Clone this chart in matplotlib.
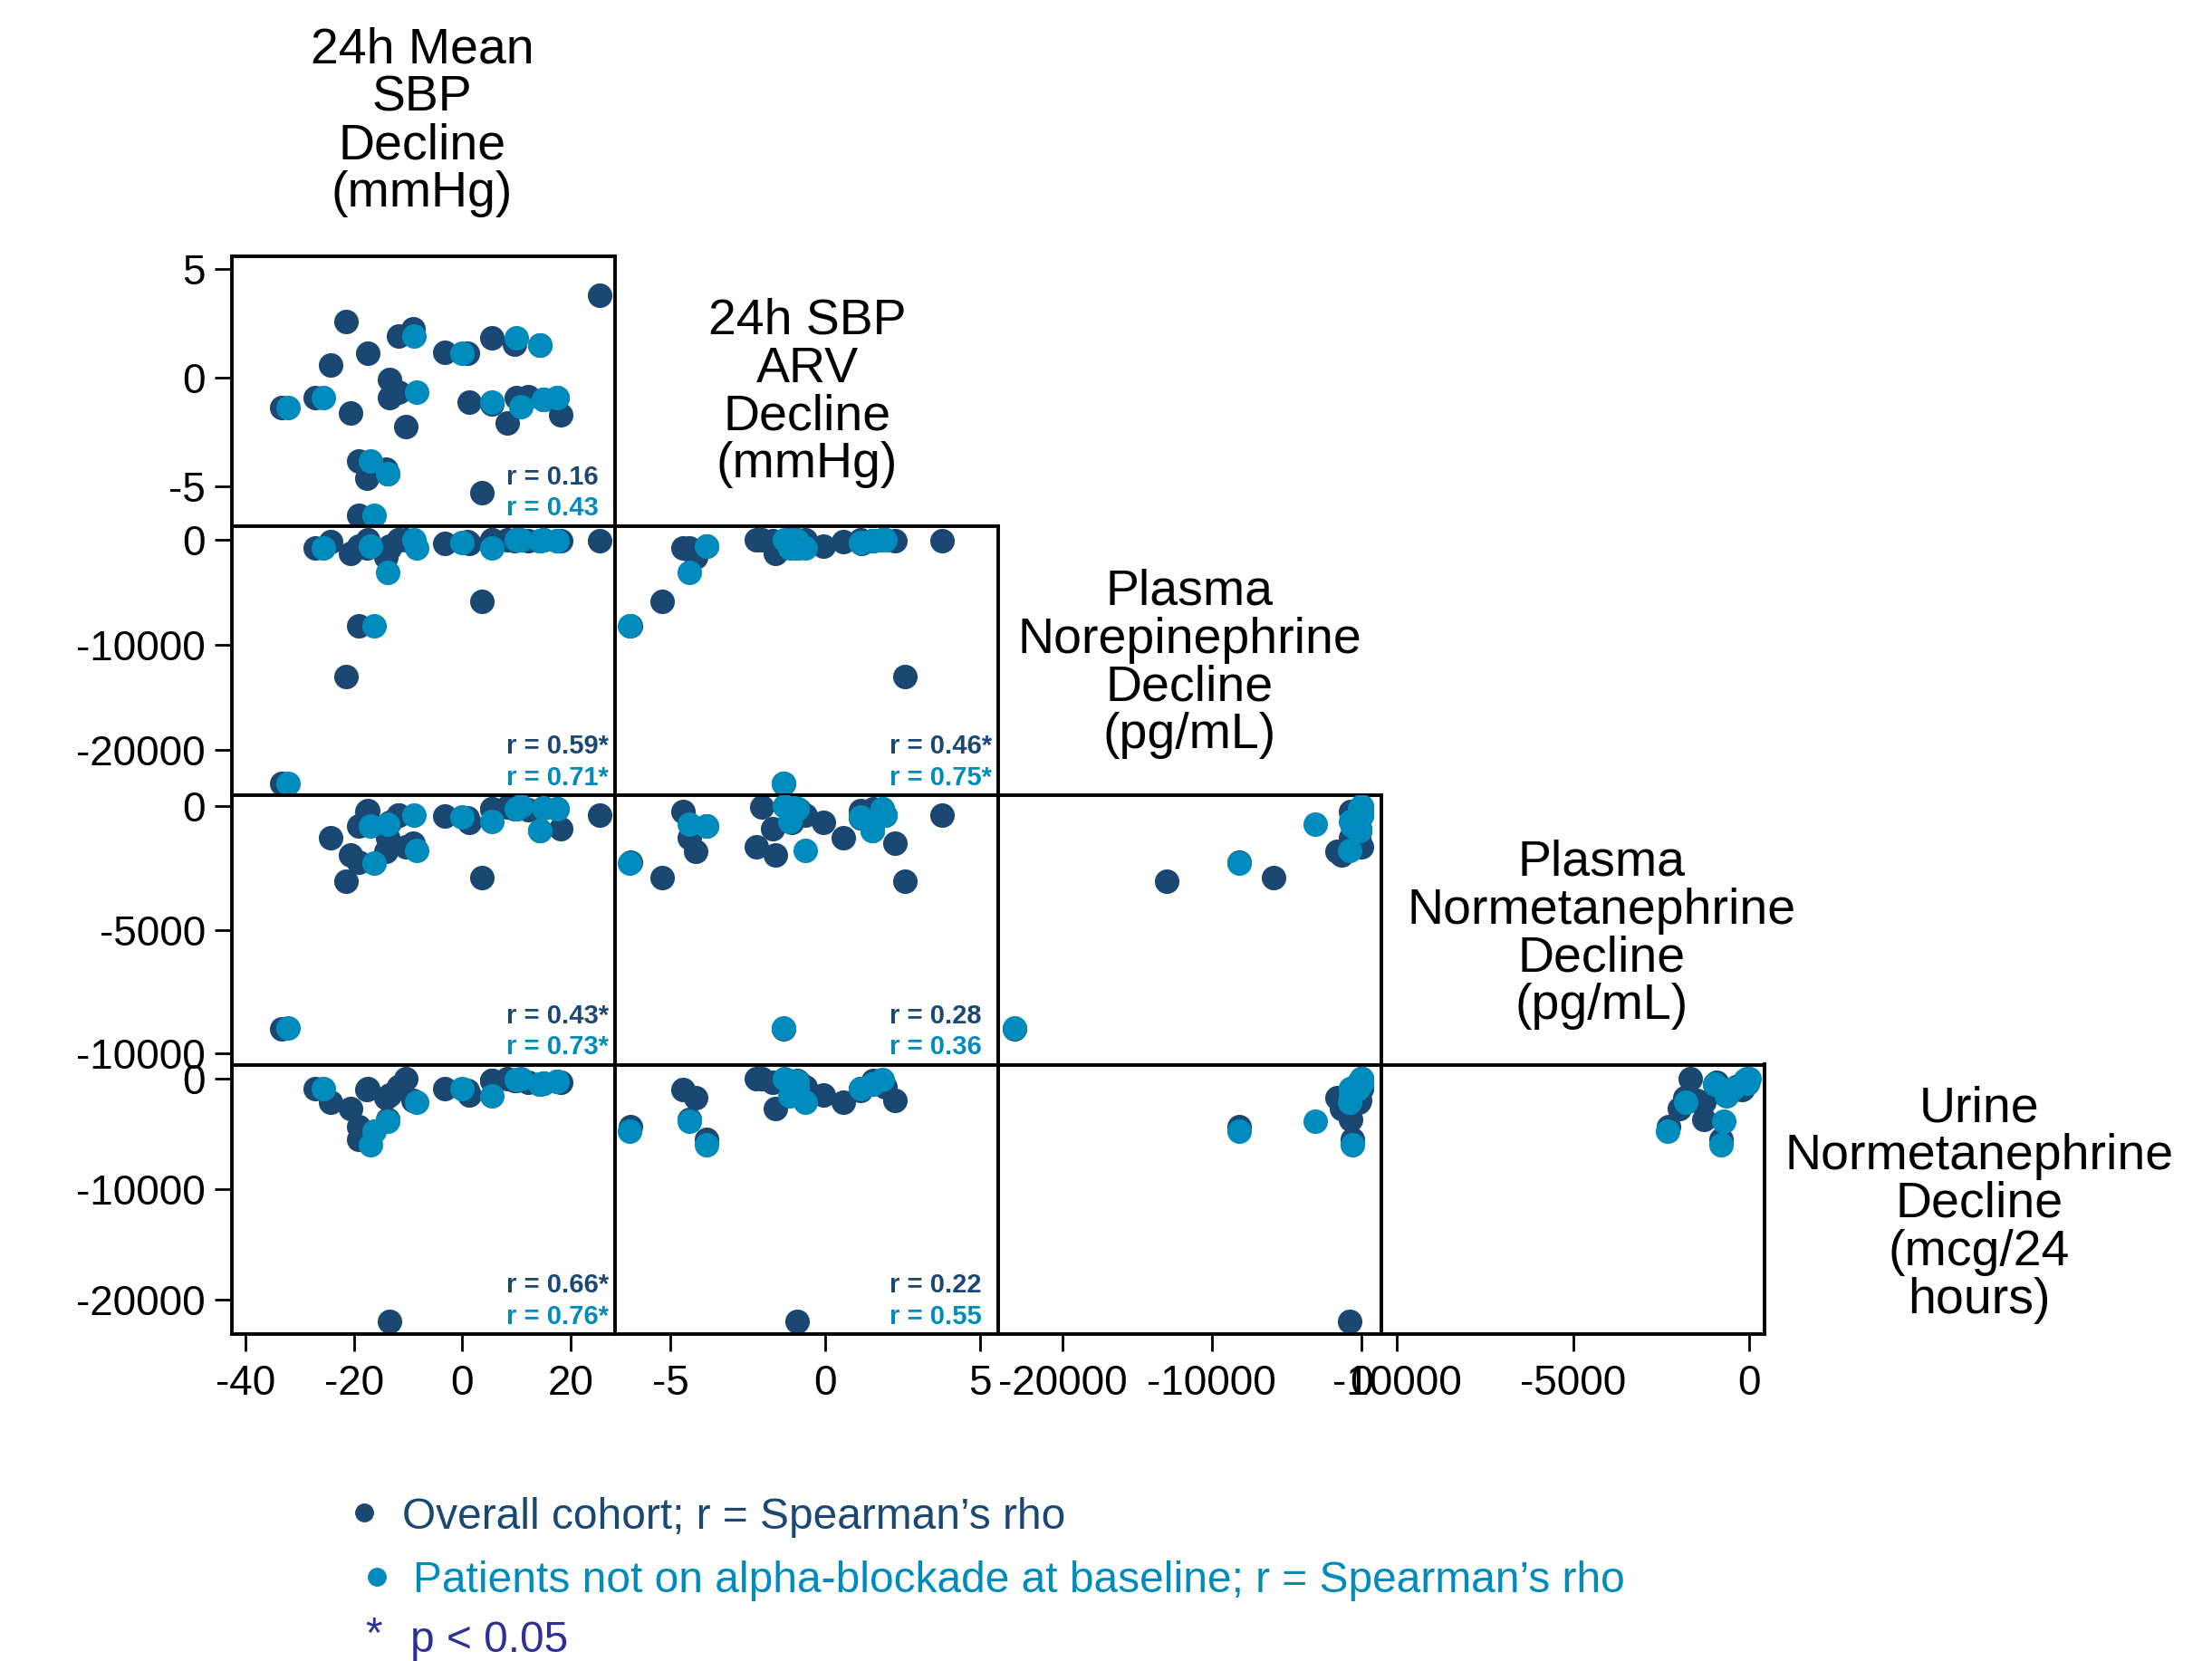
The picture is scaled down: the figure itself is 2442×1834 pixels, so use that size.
import numpy as np
import matplotlib.pyplot as plt

plt.rcParams['font.family'] = ['Liberation Sans', 'DejaVu Sans']
plt.rcParams['axes.unicode_minus'] = False

nan = np.nan

# VARIABLE LABELS (diagonal)
var_labels = [
    "24h Mean\nSBP\nDecline\n(mmHg)",
    "24h SBP\nARV\nDecline\n(mmHg)",
    "Plasma\nNorepinephrine\nDecline\n(pg/mL)",
    "Plasma\nNormetanephrine\nDecline\n(pg/mL)",
    "Urine\nNormetanephrine\nDecline\n(mcg/24\nhours)",
]

# OVERALL COHORT (one value per patient)
sbp_mean = [25.3, -21.5, -11.8, -9.0, -17.5, -24.2, -3.2, 1.0, 5.5, 9.7,
            -33.3, -27.2, -20.6, -13.5, -11.8, -13.4, -10.4, 1.3, 5.5, 8.3,
            9.9, 12.2, 18.1, -19.1, -17.6, -14.1, -13.8, 3.7, -19.1,
            14.4, 15.0, 17.5]
sbp_arv = [3.79, 2.58, 1.94, 2.27, 1.13, 0.60, 1.18, 1.15, 1.84, 1.56,
           -1.35, -0.92, -1.60, -0.07, -0.64, -0.92, -2.23, -1.09, -1.20, -2.06,
           -0.92, -0.85, -1.70, -3.83, -4.61, -4.20, -4.40, -5.29, -6.31,
           1.52, -0.99, -0.92]
plasma_ne = [-90, -13030, 0, -100, 0, -150, -300, -150, 0, -50,
             -23210, -735, -1320, -600, 0, -800, 0, -300, 0, 0,
             0, -50, -100, -590, -735, -1615, -735, -5850, -8200,
             -100, 0, -100]
plasma_nmn = [-370, -3026, -348, -1494, -161, -1282, -411, -473, -100, -100,
              -9004, nan, -1968, -661, -348, nan, -1656, -661, -100, -40,
              -100, -150, -909, -785, -199, -1818, -1282, -2877, -2279,
              -971, -50, -100]
urine_nmn = [nan, nan, -700, -1900, -906, -2142, -851, -1044, -100, -150,
             nan, -906, -2691, -1456, -700, -21920, 0, -1456, -100, 0,
             -100, -300, -300, -5440, -989, -1730, -3650, nan, -4340,
             -500, -357, -200]

# PATIENTS NOT ON ALPHA-BLOCKADE AT BASELINE
sub_sbp_mean = [-32.2, -25.7, -16.3, -16.9, -13.8, -8.9, -0.1, 9.9, 14.4,
                5.4, 10.8, 15.0, 17.5, -8.4]
sub_sbp_arv = [-1.35, -0.92, -6.34, -3.83, -4.40, 1.94, 1.15, 1.84, 1.52,
               -1.13, -1.31, -0.99, -0.92, -0.64]
sub_plasma_ne = [-23220, -735, -8200, -590, -3070, 0, -250, 0, -100,
                 -735, 0, 0, -100, -800]
sub_plasma_nmn = [-8978, nan, -2316, -785, -722, -348, -440, -100, -971,
                  -630, 0, -50, -100, -1782]
sub_urine_nmn = [nan, -906, -4750, -5990, -3790, nan, -906, -82, -500,
                 -1500, 0, -357, -200, -2100]

# SPEARMAN'S RHO PER PANEL (row, col) of the lower triangle
pairs = [(1, 0), (2, 0), (2, 1), (3, 0), (3, 1), (3, 2),
         (4, 0), (4, 1), (4, 2), (4, 3)]
rho_all = ["0.16", "0.59*", "0.46*", "0.43*", "0.28", "", "0.66*", "0.22", "", ""]
rho_sub = ["0.43", "0.71*", "0.75*", "0.73*", "0.36", "", "0.76*", "0.55", "", ""]

# AXIS RANGES AND TICKS
limits = [(-42.5, 28.2), (-6.8, 5.6), (-24300, 1350), (-10450, 450), (-23100, 1300)]
ticks = [[-40, -20, 0, 20], [-5, 0, 5], [-20000, -10000, 0],
         [-10000, -5000, 0], [-20000, -10000, 0]]

dark = "#1b4872"
light = "#008bbd"

overall = [sbp_mean, sbp_arv, plasma_ne, plasma_nmn, urine_nmn]
subgroup = [sub_sbp_mean, sub_sbp_arv, sub_plasma_ne, sub_plasma_nmn, sub_urine_nmn]

W, H = 2442, 1834
fig = plt.figure(figsize=(W / 100, H / 100), dpi=100)

x0, y0 = 256, 283
cw, ch = 423, 297.5


def rect(left, top, w, h):
    return [left / W, 1 - (top + h) / H, w / W, h / H]


for k, (i, j) in enumerate(pairs):
    ax = fig.add_axes(rect(x0 + j * cw, y0 + (i - 1) * ch, cw, ch))

    ax.plot(overall[j], overall[i], "o", color=dark, markersize=19.5,
            markeredgewidth=0, zorder=2)
    ax.plot(subgroup[j], subgroup[i], "o", color=light, markersize=19.5,
            markeredgewidth=0, zorder=3)

    ax.set_xlim(limits[j])
    ax.set_ylim(limits[i])
    ax.set_xticks(ticks[j])
    ax.set_yticks(ticks[i])

    ax.tick_params(direction="out", length=14, width=2, labelsize=33,
                   colors="black")
    ax.tick_params(axis="x", pad=10)
    ax.tick_params(axis="y", pad=7)
    if j != 0:
        ax.tick_params(axis="y", left=False, labelleft=False)
    if i != 4:
        ax.tick_params(axis="x", bottom=False, labelbottom=False)

    for sp in ax.spines.values():
        sp.set_linewidth(2.8)
        sp.set_color("black")

    if rho_all[k]:
        ax.text(0.716, 0.18, "r = " + rho_all[k], transform=ax.transAxes,
                color=dark, fontsize=21, fontweight="bold", va="center")
        ax.text(0.716, 0.065, "r = " + rho_sub[k], transform=ax.transAxes,
                color=light, fontsize=21, fontweight="bold", va="center")

# DIAGONAL LABELS
label_x = [466, 891, 1313, 1768, 2185]
label_y = [135, 434, 733, 1032, 1330]
for lab, lx, ly in zip(var_labels, label_x, label_y):
    fig.text(lx / W, 1 - ly / H, lab, ha="center", va="center",
             fontsize=40, linespacing=1.02, color="black")

# LEGEND
fig.lines.append(plt.Line2D([402 / W], [1 - 1670 / H], marker="o",
                            markersize=14, color=dark, transform=fig.transFigure))
fig.lines.append(plt.Line2D([416 / W], [1 - 1741 / H], marker="o",
                            markersize=14, color=light, transform=fig.transFigure))
fig.text(444 / W, 1 - 1676 / H, "Overall cohort; r = Spearman\u2019s rho",
         color=dark, fontsize=34.5, va="center")
fig.text(456 / W, 1 - 1746 / H,
         "Patients not on alpha-blockade at baseline; r = Spearman\u2019s rho",
         color=light, fontsize=34.5, va="center")
fig.text(403 / W, 1 - 1806 / H, "*", color="#2e3192", fontsize=34.5, va="center")
fig.text(453 / W, 1 - 1811 / H, "p < 0.05", color="#2e3192", fontsize=34.5,
         va="center")

fig.savefig("out.png", dpi=100, facecolor="white")
